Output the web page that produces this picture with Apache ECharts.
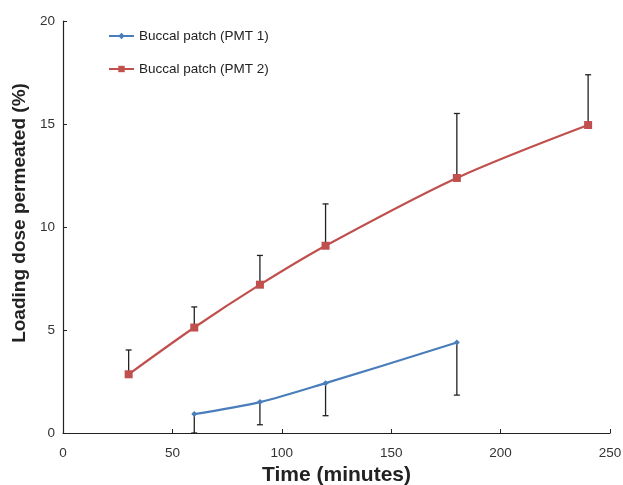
<!DOCTYPE html>
<html><head><meta charset="utf-8">
<script src="https://cdn.jsdelivr.net/npm/echarts@6/dist/echarts.min.js"></script>
<style>html,body{margin:0;padding:0;background:#fff}#c{width:623px;height:485px}</style>
</head><body><div id="c"></div>
<script>
var pmt1Time = [60, 90, 120, 180];
var pmt1Mean = [0.92, 1.5, 2.42, 4.39];
var pmt1Err  = [0.92, 1.1, 1.58, 2.55];
var pmt2Time = [30, 60, 90, 120, 180, 240];
var pmt2Mean = [2.85, 5.12, 7.2, 9.09, 12.38, 14.95];
var pmt2Err  = [1.18, 1.0, 1.42, 2.03, 3.13, 2.44];
var xTicks = [0, 50, 100, 150, 200, 250];
var yTicks = [0, 5, 10, 15, 20];

var FONT = 'Liberation Sans, Arial, sans-serif';
var chart = echarts.init(document.getElementById('c'));
function pairs(t, m){ return t.map(function(v,i){return [v, m[i]];}); }
function errData(t, m, e, dir){ return t.map(function(v,i){return [v, m[i], m[i] + dir*e[i]];}); }
function errRender(params, api){
  var p0 = api.coord([api.value(0), api.value(1)]);
  var p1 = api.coord([api.value(0), api.value(2)]);
  var st = {stroke:'#222', lineWidth:1.3};
  return {type:'group', children:[
    {type:'line', shape:{x1:p0[0],y1:p0[1],x2:p1[0],y2:p1[1]}, style:st},
    {type:'line', shape:{x1:p1[0]-3,y1:p1[1],x2:p1[0]+3,y2:p1[1]}, style:st}
  ]};
}
chart.setOption({
  animation:false,
  grid:{left:63, right:13, top:21, bottom:52, containLabel:false, outerBoundsMode:'none'},
  legend:{
    left:103, top:24, orient:'vertical', itemGap:19, itemWidth:25, itemHeight:8,
    textStyle:{fontSize:13.5, color:'#222', fontFamily:FONT},
    data:['Buccal patch (PMT 1)','Buccal patch (PMT 2)']
  },
  xAxis:{
    type:'value', min:0, max:250, interval:50,
    name:'Time (minutes)', nameLocation:'middle', nameGap:31,
    nameTextStyle:{fontSize:21, fontWeight:'bold', color:'#222', fontFamily:FONT},
    axisLine:{lineStyle:{color:'#222', width:1.2}},
    axisTick:{inside:true, length:4, lineStyle:{color:'#222'}},
    axisLabel:{fontSize:13.5, color:'#333', margin:13, fontFamily:FONT},
    splitLine:{show:false}
  },
  yAxis:{
    type:'value', min:0, max:20, interval:5,
    name:'Loading dose permeated (%)', nameLocation:'middle', nameGap:30,
    nameTextStyle:{fontSize:19, fontWeight:'bold', color:'#222', fontFamily:FONT, padding:[0,0,0,28]},
    axisLine:{show:true, lineStyle:{color:'#222', width:1.2}},
    axisTick:{show:true, inside:true, length:4, lineStyle:{color:'#222'}},
    axisLabel:{fontSize:13.5, color:'#333', margin:8, fontFamily:FONT},
    splitLine:{show:false}
  },
  series:[
    {type:'custom', renderItem:errRender, data:errData(pmt1Time,pmt1Mean,pmt1Err,-1), z:1, silent:true},
    {type:'custom', renderItem:errRender, data:errData(pmt2Time,pmt2Mean,pmt2Err,1), z:1, silent:true},
    {name:'Buccal patch (PMT 1)', type:'line', data:pairs(pmt1Time,pmt1Mean), smooth:0.3,
     symbol:'diamond', symbolSize:6, z:3,
     lineStyle:{color:'#4a7ebb', width:2.2}, itemStyle:{color:'#4a7ebb'}},
    {name:'Buccal patch (PMT 2)', type:'line', data:pairs(pmt2Time,pmt2Mean), smooth:0.3,
     symbol:'rect', symbolSize:8, z:3,
     lineStyle:{color:'#c0504d', width:2.2}, itemStyle:{color:'#c0504d'}}
  ]
});
</script></body></html>
